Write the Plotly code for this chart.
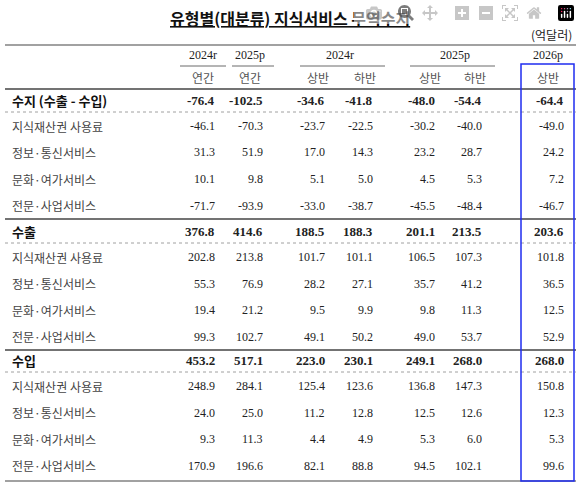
import plotly.graph_objects as go

title = "유형별(대분류) 지식서비스 무역수지"
unit = "(억달러)"
years = ["2024r", "2025p", "2024r", "2025p", "2026p"]
periods = ["연간", "연간", "상반", "하반", "상반", "하반", "상반"]

groups = ["수지 (수출 - 수입)", "수출", "수입"]
items = ["지식재산권 사용료", "정보·통신서비스", "문화·여가서비스", "전문·사업서비스"]

balance = [-76.4, -102.5, -34.6, -41.8, -48.0, -54.4, -64.4]
balance_items = [
    [-46.1, -70.3, -23.7, -22.5, -30.2, -40.0, -49.0],
    [31.3, 51.9, 17.0, 14.3, 23.2, 28.7, 24.2],
    [10.1, 9.8, 5.1, 5.0, 4.5, 5.3, 7.2],
    [-71.7, -93.9, -33.0, -38.7, -45.5, -48.4, -46.7],
]
exports = [376.8, 414.6, 188.5, 188.3, 201.1, 213.5, 203.6]
exports_items = [
    [202.8, 213.8, 101.7, 101.1, 106.5, 107.3, 101.8],
    [55.3, 76.9, 28.2, 27.1, 35.7, 41.2, 36.5],
    [19.4, 21.2, 9.5, 9.9, 9.8, 11.3, 12.5],
    [99.3, 102.7, 49.1, 50.2, 49.0, 53.7, 52.9],
]
imports = [453.2, 517.1, 223.0, 230.1, 249.1, 268.0, 268.0]
imports_items = [
    [248.9, 284.1, 125.4, 123.6, 136.8, 147.3, 150.8],
    [24.0, 25.0, 11.2, 12.8, 12.5, 12.6, 12.3],
    [9.3, 11.3, 4.4, 4.9, 5.3, 6.0, 5.3],
    [170.9, 196.6, 82.1, 88.8, 94.5, 102.1, 99.6],
]

W, H = 580, 493
FONT = "Noto Sans CJK KR"
SERIF = "Liberation Serif"

fig = go.Figure()
ann = []
shapes = []


def px(x):
    return x / W


def py(y):
    return 1 - y / H


def text(x, y, s, anchor="center", size=12, bold=False, family=SERIF, color="#222"):
    ann.append(dict(x=px(x), y=py(y), xref="paper", yref="paper", text=f"<b>{s}</b>" if bold else s,
                    showarrow=False, xanchor=anchor, yanchor="middle",
                    font=dict(size=size, family=family, color=color)))


def hline(x0, x1, y, width=1, dash="solid", color="#444"):
    shapes.append(dict(type="line", xref="paper", yref="paper", x0=px(x0), x1=px(x1), y0=py(y), y1=py(y),
                       line=dict(width=width, dash=dash, color=color)))


text(290, 18, "<u>" + title + "</u>", size=16, bold=True, family=FONT, color="#111")
text(574, 34, unit, anchor="right", size=12, family=FONT)
hline(5, 576, 45, width=1.2)

year_x = [203, 250, 340, 455, 548]
for yx, s in zip(year_x, years):
    text(yx, 55, s, size=12)
for x0, x1 in [(180, 226), (232, 274), (300, 385), (410, 495)]:
    hline(x0, x1, 66, width=0.8)

num_right = [217, 265, 327, 375, 437, 484, 566]
per_x = [203, 250, 318, 365, 430, 475, 548]
for xx, s in zip(per_x, periods):
    text(xx, 77, s, size=12, family=FONT, color="#555")
hline(5, 576, 89, width=1.6)

blocks = [(balance, balance_items, 100), (exports, exports_items, 231), (imports, imports_items, 360)]
for gi, (tot, its, y0) in enumerate(blocks):
    text(10, y0, groups[gi], anchor="left", size=13, bold=True, family=FONT, color="#111")
    for xr, v in zip(num_right, tot):
        text(xr, y0, f"{v:.1f}", anchor="right", size=13, bold=True)
    hline(5, 576, y0 + 12, width=0.8, dash="dot", color="#888")
    for ri, (name, vals) in enumerate(zip(items, its)):
        yy = y0 + 26 + ri * 26.5
        text(10, yy, name, anchor="left", size=12, family=FONT, color="#444")
        for xr, v in zip(num_right, vals):
            text(xr, yy, f"{v:.1f}", anchor="right", size=12)
    if gi < 2:
        hline(5, 576, y0 + 119, width=1.6)
hline(5, 576, 481, width=1.2)

shapes.append(dict(type="rect", xref="paper", yref="paper", x0=px(521), x1=px(574), y0=py(481), y1=py(64),
                   line=dict(color="#1f2cf0", width=1.5)))

fig.update_layout(width=W, height=H, margin=dict(l=0, r=0, t=0, b=0), plot_bgcolor="white",
                  paper_bgcolor="white", annotations=ann, shapes=shapes,
                  xaxis=dict(visible=False), yaxis=dict(visible=False))
fig.write_html("out.html",
               post_script="document.body.style.margin='0';document.body.style.overflow='hidden';")
